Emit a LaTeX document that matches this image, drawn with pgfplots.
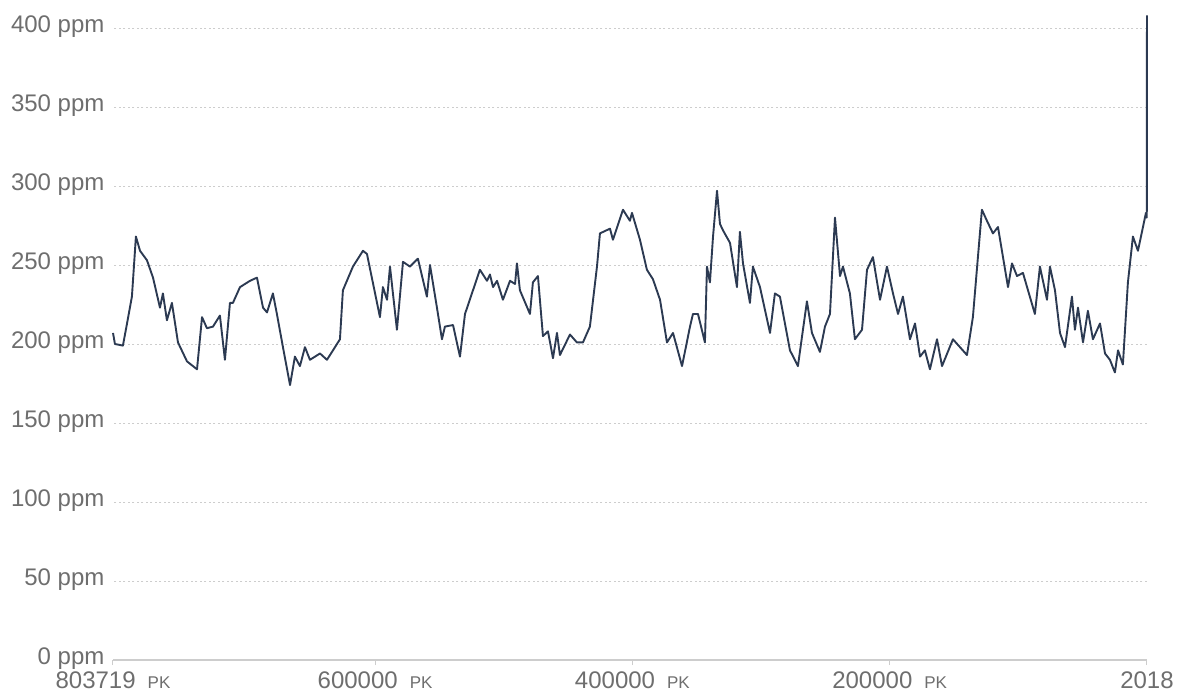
\documentclass[border=0pt]{standalone}
\usepackage{fontspec}
\setmainfont{Liberation Sans}
\usepackage{pgfplots}
\pgfplotsset{compat=1.18}
\definecolor{linecol}{RGB}{44,58,82}
\definecolor{txtcol}{RGB}{110,110,110}
\definecolor{gridcol}{RGB}{205,205,205}
\newcommand{\pk}{\hspace{12pt}{\fontsize{17}{20}\selectfont PK}\hspace{20pt}}
\begin{document}
\begin{tikzpicture}
\begin{axis}[
  scale only axis,
  width=1034pt, height=647.8pt,
  x dir=reverse,
  xmin=0, xmax=803.719,
  ymin=0, ymax=410,
  axis lines=left,
  x axis line style={-, draw=gridcol, line width=1.2pt},
  y axis line style={draw=none},
  xtick={803.719,600,400,200,0},
  xticklabels={803719\pk, 600000\pk, 400000\pk, 200000\pk, 2018},
  ytick={0,50,100,150,200,250,300,350,400},
  yticklabels={0 ppm,50 ppm,100 ppm,150 ppm,200 ppm,250 ppm,300 ppm,350 ppm,400 ppm},
  tick align=outside,
  major tick length=5pt,
  xtick style={draw=gridcol, line width=1pt},
  ytick style={draw=none},
  ymajorgrids,
  grid style={gridcol, line width=0.9pt, dash pattern=on 2pt off 2.5pt},
  ticklabel style={font=\fontsize{24}{28}\selectfont, text=txtcol},
  xticklabel style={yshift=-3pt},
  yticklabel style={yshift=1pt},
  clip=false,
]
\addplot[linecol, line width=1.9pt, line join=round] coordinates {
(803.7,207) (802.2,200) (796.0,199) (792.8,213) (789.0,230) (785.9,268)
(782.7,259) (777.3,253) (772.6,242) (767.2,223) (764.9,232) (761.8,215)
(757.9,226) (753.2,201) (746.2,189) (738.4,184) (734.5,217) (730.7,210)
(726.0,211) (720.6,218) (716.7,190) (712.8,226) (710.5,226) (705.0,236)
(697.2,240) (691.8,242) (687.1,223) (684.0,220) (679.4,232) (676.3,219)
(671.6,198) (666.1,174) (662.3,192) (658.4,186) (654.5,198) (650.6,190)
(642.8,194) (637.4,190) (632.7,196) (627.3,203) (625.0,234) (617.2,249)
(609.4,259) (606.3,257) (596.2,217) (593.9,236) (590.7,228) (588.4,249)
(583.0,209) (578.3,252) (572.9,249) (566.7,254) (559.7,230) (557.3,250)
(551.9,223) (548.0,203) (545.7,211) (539.4,212) (534.0,192) (530.1,219)
(518.5,247) (513.0,240) (510.7,244) (508.3,236) (505.2,240) (500.6,228)
(495.1,240) (491.2,238) (489.7,251) (487.4,234) (479.6,219)
(477.3,239) (473.4,243) (469.5,205) (465.6,208) (461.7,191) (458.6,207)
(456.3,193) (448.5,206) (443.1,201) (438.4,201) (433.0,211) (427.5,249)
(425.2,270) (417.4,273) (415.1,266) (407.3,285) (401.9,278) (400.3,283)
(394.1,266) (388.7,247) (384.0,241) (378.5,228) (373.1,201) (368.4,207)
(361.4,186) (355.2,211) (352.9,219) (349.0,219) (343.6,201) (342.0,249)
(339.7,239) (337.3,268) (334.2,297) (331.9,276) (329.6,272) (324.1,264)
(318.7,236) (316.4,271) (314.0,251) (308.6,226) (306.3,249) (300.8,236)
(293.0,207) (289.2,232) (285.3,230) (277.5,196) (271.3,186) (267.4,209)
(264.3,227) (260.4,207) (254.2,195) (250.3,211) (246.4,219) (242.5,280)
(238.6,243) (236.3,249) (230.9,232) (227.0,203) (221.5,209) (217.6,247)
(213.0,255) (207.5,228) (202.1,249) (197.4,232) (193.5,219) (189.7,230)
(184.2,203) (180.3,213) (176.4,192) (172.6,196) (168.7,184) (163.2,203)
(159.3,186) (150.8,203) (139.9,193) (135.3,217) (128.3,285) (124.4,278)
(119.7,270) (115.8,274) (111.9,255) (108.0,236) (104.9,251) (101.0,243)
(96.4,245) (87.1,219) (83.2,249) (77.7,228) (75.4,249) (71.5,234)
(67.6,207) (63.7,198) (58.3,230) (56.0,209) (53.6,223) (49.7,201)
(45.9,221) (42.0,203) (36.5,213) (32.6,194) (28.8,190) (24.9,182)
(22.5,196) (18.7,187) (14.8,239) (10.9,268) (7.0,259) (3.1,274)
(0.8,283) (0.2,280) (0.1,285) (0,408)
};
\end{axis}
\pgfresetboundingbox
\path (-113pt,-36pt) rectangle (1064pt,660pt);
\end{tikzpicture}
\end{document}
